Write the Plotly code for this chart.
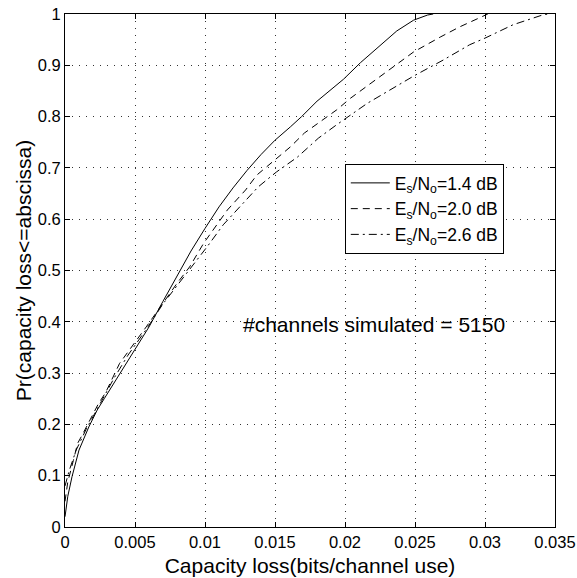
import plotly.graph_objects as go

# Capacity loss (bits/channel use) vs CDF, three Es/No values
x_14 = [0, 0.0002, 0.0005, 0.001, 0.0017, 0.0023, 0.0028, 0.0037, 0.005, 0.006, 0.007,
        0.008, 0.009, 0.01, 0.011, 0.012, 0.013, 0.014, 0.015, 0.0161,
        0.0169, 0.018, 0.0199, 0.0211, 0.0223, 0.0237, 0.0249, 0.0259, 0.0263]
y_14 = [0.02, 0.06, 0.098, 0.15, 0.195, 0.228, 0.25, 0.29, 0.345, 0.39, 0.44,
        0.49, 0.538, 0.582, 0.624, 0.661, 0.695, 0.726, 0.754, 0.78,
        0.80, 0.83, 0.873, 0.905, 0.934, 0.967, 0.988, 0.998, 1.0]

x_20 = [0, 0.0002, 0.0006, 0.0009, 0.0013, 0.0019, 0.0024, 0.0029, 0.0039, 0.0058, 0.008,
        0.0089, 0.0099, 0.0116, 0.0129, 0.0137, 0.0148, 0.0161, 0.0171, 0.0184, 0.0194,
        0.0204, 0.0223, 0.0241, 0.0249, 0.0268, 0.0282, 0.0302]
y_20 = [0.05, 0.088, 0.13, 0.163, 0.183, 0.215, 0.241, 0.262, 0.319, 0.39, 0.475,
        0.507, 0.553, 0.618, 0.657, 0.686, 0.712, 0.741, 0.768, 0.793, 0.813,
        0.836, 0.874, 0.91, 0.926, 0.955, 0.975, 1.0]

x_26 = [0, 0.0003, 0.0008, 0.0015, 0.0025, 0.0035, 0.0045, 0.0058, 0.007, 0.008, 0.009,
        0.0102, 0.0113, 0.0125, 0.0138, 0.0151, 0.0166, 0.0181, 0.0194, 0.0216,
        0.0239, 0.0249, 0.027, 0.0289, 0.03, 0.032, 0.0341, 0.0345]
y_26 = [0.08, 0.11, 0.15, 0.19, 0.24, 0.29, 0.335, 0.385, 0.435, 0.47, 0.505,
        0.548, 0.589, 0.624, 0.663, 0.692, 0.721, 0.758, 0.784, 0.826,
        0.862, 0.879, 0.91, 0.94, 0.953, 0.979, 0.998, 1.0]

series_names = ["E<sub>s</sub>/N<sub>o</sub>=1.4 dB",
                "E<sub>s</sub>/N<sub>o</sub>=2.0 dB",
                "E<sub>s</sub>/N<sub>o</sub>=2.6 dB"]

x_ticks = [0, 0.005, 0.01, 0.015, 0.02, 0.025, 0.03, 0.035]
x_ticklabels = ["0", "0.005", "0.01", "0.015", "0.02", "0.025", "0.03", "0.035"]
y_ticks = [0, 0.1, 0.2, 0.3, 0.4, 0.5, 0.6, 0.7, 0.8, 0.9, 1]
y_ticklabels = ["0", "0.1", "0.2", "0.3", "0.4", "0.5", "0.6", "0.7", "0.8", "0.9", "1"]

annotation_text = "#channels simulated = 5150"
x_title = "Capacity loss(bits/channel use)"
y_title = "Pr(capacity loss<=abscissa)"

FONT = "Liberation Sans, Arial, Helvetica, sans-serif"

fig = go.Figure()
dashes = ["solid", "7px,5px", "8px,4px,2px,4px"]
for xs, ys, name, d in zip([x_14, x_20, x_26], [y_14, y_20, y_26], series_names, dashes):
    fig.add_trace(go.Scatter(x=xs, y=ys, mode="lines", name=name,
                             line=dict(color="black", width=1, dash=d)))

axis_common = dict(showline=True, linecolor="black", linewidth=1, mirror="allticks",
                   ticks="inside", ticklen=5, tickcolor="black", showgrid=True,
                   gridcolor="rgba(0,0,0,0.8)", gridwidth=1, griddash="1px,6px",
                   zeroline=False, automargin=False,
                   tickfont=dict(family=FONT, size=16.5, color="black"))

fig.update_xaxes(range=[0, 0.035], tickvals=x_ticks, ticktext=x_ticklabels,
                 title=dict(text=x_title, font=dict(family=FONT, size=21, color="black"), standoff=8),
                 **axis_common)
fig.update_yaxes(range=[0, 1], tickvals=y_ticks, ticktext=y_ticklabels,
                 title=dict(text=y_title, font=dict(family=FONT, size=21, color="black"), standoff=0),
                 **axis_common)

fig.add_annotation(x=0.0221, y=0.394, text=annotation_text, showarrow=False,
                   font=dict(family=FONT, size=21, color="black"))

fig.update_layout(
    width=577, height=578,
    margin=dict(l=65, r=22, t=14, b=51, autoexpand=False),
    paper_bgcolor="white", plot_bgcolor="white",
    font=dict(family=FONT, color="black"),
    legend=dict(x=0.571, y=0.7076, xanchor="left", yanchor="top",
                bgcolor="white", bordercolor="black", borderwidth=1,
                font=dict(family=FONT, size=17.5, color="black"),
                tracegroupgap=0, itemwidth=39),
    showlegend=True,
)

fig.write_html("out.html")
